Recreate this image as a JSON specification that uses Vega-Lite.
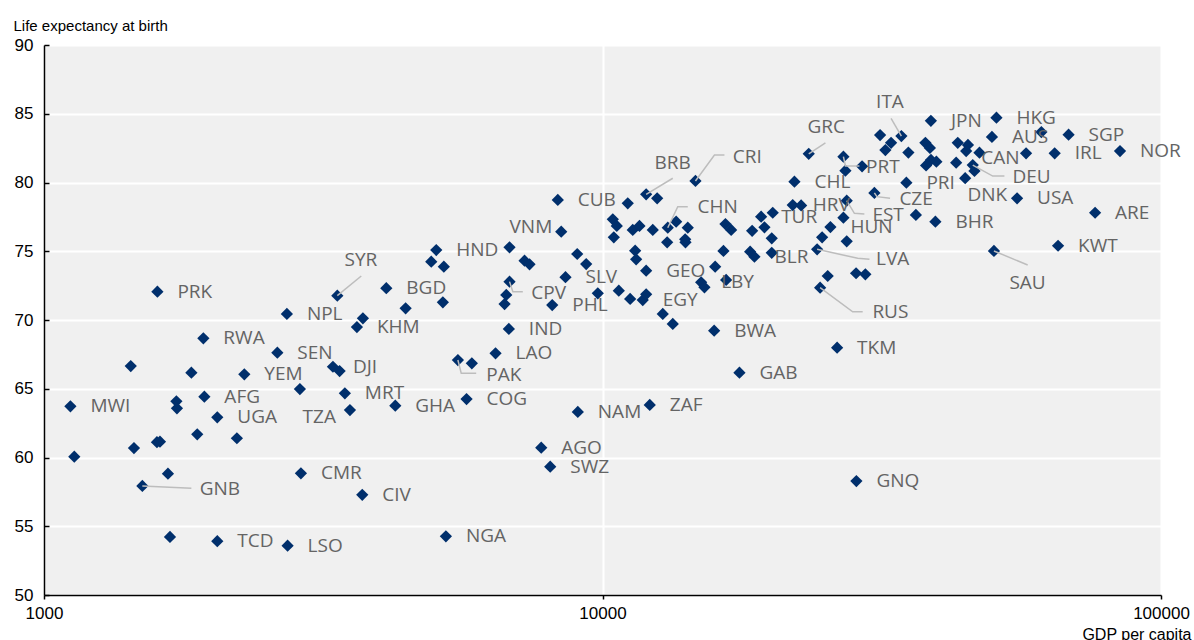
{
  "$schema": "https://vega.github.io/schema/vega-lite/v6.json",
  "autosize": {"type": "none"},
  "width": 1117,
  "height": 550,
  "padding": {"left": 44, "top": 45, "right": 33, "bottom": 45},
  "background": "#ffffff",
  "datasets": {
    "countries": [
      {"code": "MWI", "gdp": 1115, "le": 63.72},
      {"gdp": 1133, "le": 60.06},
      {"gdp": 1430, "le": 66.65},
      {"gdp": 1449, "le": 60.69},
      {"code": "GNB", "gdp": 1500, "le": 57.93},
      {"code": "PRK", "gdp": 1596, "le": 72.06},
      {"gdp": 1593, "le": 61.11},
      {"gdp": 1613, "le": 61.15},
      {"gdp": 1667, "le": 58.82},
      {"gdp": 1681, "le": 54.22},
      {"gdp": 1726, "le": 64.09},
      {"gdp": 1730, "le": 63.58},
      {"gdp": 1836, "le": 66.17},
      {"gdp": 1881, "le": 61.69},
      {"code": "RWA", "gdp": 1929, "le": 68.67},
      {"code": "AFG", "gdp": 1937, "le": 64.42},
      {"code": "UGA", "gdp": 2043, "le": 62.92},
      {"code": "TCD", "gdp": 2043, "le": 53.91},
      {"gdp": 2215, "le": 61.40},
      {"code": "YEM", "gdp": 2284, "le": 66.05},
      {"code": "SEN", "gdp": 2617, "le": 67.62},
      {"code": "NPL", "gdp": 2722, "le": 70.44},
      {"code": "LSO", "gdp": 2730, "le": 53.59},
      {"gdp": 2872, "le": 64.98},
      {"code": "CMR", "gdp": 2884, "le": 58.85},
      {"code": "DJI", "gdp": 3291, "le": 66.60},
      {"gdp": 3383, "le": 66.29},
      {"code": "SYR", "gdp": 3351, "le": 71.77},
      {"code": "MRT", "gdp": 3457, "le": 64.67},
      {"code": "TZA", "gdp": 3530, "le": 63.45},
      {"code": "KHM", "gdp": 3633, "le": 69.49},
      {"gdp": 3724, "le": 70.12},
      {"code": "CIV", "gdp": 3714, "le": 57.29},
      {"code": "BGD", "gdp": 4101, "le": 72.31},
      {"code": "GHA", "gdp": 4256, "le": 63.77},
      {"gdp": 4441, "le": 70.85},
      {"code": "HND", "gdp": 5039, "le": 75.09},
      {"gdp": 4936, "le": 74.24},
      {"gdp": 5199, "le": 73.88},
      {"gdp": 5178, "le": 71.29},
      {"code": "NGA", "gdp": 5243, "le": 54.27},
      {"code": "PAK", "gdp": 5509, "le": 67.09},
      {"code": "COG", "gdp": 5709, "le": 64.25},
      {"gdp": 5835, "le": 66.85},
      {"code": "LAO", "gdp": 6434, "le": 67.58},
      {"gdp": 6678, "le": 71.16},
      {"gdp": 6725, "le": 71.82},
      {"code": "IND", "gdp": 6797, "le": 69.35},
      {"code": "CPV", "gdp": 6816, "le": 72.79},
      {"gdp": 6816, "le": 75.29},
      {"gdp": 7251, "le": 74.31},
      {"gdp": 7402, "le": 74.05},
      {"code": "AGO", "gdp": 7768, "le": 60.71},
      {"code": "SWZ", "gdp": 8061, "le": 59.33},
      {"code": "PHL", "gdp": 8128, "le": 71.09},
      {"code": "CUB", "gdp": 8317, "le": 78.73},
      {"code": "VNM", "gdp": 8435, "le": 76.42},
      {"code": "SLV", "gdp": 8585, "le": 73.11},
      {"gdp": 9010, "le": 74.80},
      {"code": "NAM", "gdp": 9032, "le": 63.31},
      {"gdp": 9350, "le": 74.07},
      {"gdp": 9808, "le": 71.94},
      {"gdp": 10434, "le": 77.32},
      {"gdp": 10607, "le": 76.84},
      {"gdp": 10477, "le": 76.01},
      {"gdp": 10695, "le": 72.13},
      {"gdp": 11097, "le": 78.49},
      {"gdp": 11207, "le": 71.53},
      {"gdp": 11328, "le": 76.55},
      {"gdp": 11441, "le": 75.04},
      {"gdp": 11488, "le": 74.41},
      {"gdp": 11646, "le": 76.84},
      {"code": "EGY", "gdp": 11805, "le": 71.45},
      {"gdp": 11972, "le": 71.87},
      {"code": "BRB", "gdp": 11972, "le": 79.14},
      {"code": "GEO", "gdp": 11972, "le": 73.59},
      {"code": "ZAF", "gdp": 12151, "le": 63.82},
      {"gdp": 12303, "le": 76.55},
      {"gdp": 12528, "le": 78.85},
      {"gdp": 12821, "le": 70.44},
      {"gdp": 13055, "le": 75.65},
      {"code": "CHN", "gdp": 13088, "le": 76.71},
      {"gdp": 13360, "le": 69.71},
      {"gdp": 13548, "le": 77.15},
      {"gdp": 14061, "le": 75.87},
      {"gdp": 14079, "le": 75.65},
      {"gdp": 14213, "le": 76.71},
      {"code": "CRI", "gdp": 14671, "le": 80.11},
      {"code": "LBY", "gdp": 15019, "le": 72.74},
      {"gdp": 15225, "le": 72.38},
      {"code": "BWA", "gdp": 15846, "le": 69.22},
      {"gdp": 15912, "le": 73.88},
      {"gdp": 16465, "le": 75.02},
      {"gdp": 16601, "le": 76.98},
      {"gdp": 16649, "le": 72.91},
      {"gdp": 16996, "le": 76.55},
      {"code": "GAB", "gdp": 17587, "le": 66.17},
      {"gdp": 18380, "le": 74.97},
      {"gdp": 18532, "le": 76.49},
      {"code": "BLR", "gdp": 18709, "le": 74.60},
      {"code": "TUR", "gdp": 19233, "le": 77.51},
      {"gdp": 19497, "le": 76.74},
      {"gdp": 20092, "le": 75.94},
      {"gdp": 20092, "le": 74.89},
      {"gdp": 20175, "le": 77.80},
      {"code": "CHL", "gdp": 22063, "le": 80.06},
      {"code": "HRV", "gdp": 21909, "le": 78.36},
      {"gdp": 22680, "le": 78.33},
      {"code": "GRC", "gdp": 23402, "le": 82.09},
      {"code": "LVA", "gdp": 24226, "le": 75.14},
      {"code": "RUS", "gdp": 24527, "le": 72.35},
      {"gdp": 24730, "le": 76.01},
      {"gdp": 25307, "le": 73.20},
      {"code": "HUN", "gdp": 25590, "le": 76.76},
      {"code": "TKM", "gdp": 26307, "le": 67.99},
      {"code": "PRT", "gdp": 27000, "le": 81.88},
      {"gdp": 27000, "le": 77.44},
      {"gdp": 27223, "le": 80.86},
      {"code": "EST", "gdp": 27369, "le": 78.68},
      {"gdp": 27369, "le": 75.72},
      {"gdp": 28447, "le": 73.40},
      {"code": "GNQ", "gdp": 28482, "le": 58.29},
      {"gdp": 29158, "le": 81.18},
      {"gdp": 29557, "le": 73.32},
      {"code": "CZE", "gdp": 30676, "le": 79.24},
      {"gdp": 31406, "le": 83.45},
      {"gdp": 32099, "le": 82.36},
      {"gdp": 32862, "le": 82.89},
      {"code": "ITA", "gdp": 34288, "le": 83.38},
      {"code": "PRI", "gdp": 35002, "le": 79.99},
      {"gdp": 35292, "le": 82.18},
      {"gdp": 36401, "le": 77.64},
      {"gdp": 37856, "le": 82.89},
      {"gdp": 37965, "le": 81.24},
      {"gdp": 38565, "le": 82.51},
      {"code": "JPN", "gdp": 38724, "le": 84.49},
      {"gdp": 38740, "le": 81.64},
      {"gdp": 39612, "le": 81.51},
      {"code": "BHR", "gdp": 39449, "le": 77.15},
      {"code": "CAN", "gdp": 42976, "le": 81.44},
      {"gdp": 43261, "le": 82.89},
      {"code": "DNK", "gdp": 44602, "le": 80.31},
      {"gdp": 44786, "le": 82.29},
      {"gdp": 45119, "le": 82.73},
      {"code": "DEU", "gdp": 46021, "le": 81.27},
      {"gdp": 46344, "le": 80.84},
      {"gdp": 47309, "le": 82.17},
      {"code": "AUS", "gdp": 49809, "le": 83.31},
      {"code": "SAU", "gdp": 50221, "le": 75.02},
      {"code": "HKG", "gdp": 50741, "le": 84.71},
      {"code": "USA", "gdp": 55248, "le": 78.85},
      {"gdp": 57335, "le": 82.12},
      {"gdp": 61068, "le": 83.67},
      {"code": "IRL", "gdp": 64508, "le": 82.12},
      {"code": "KWT", "gdp": 65418, "le": 75.40},
      {"code": "SGP", "gdp": 68314, "le": 83.48},
      {"code": "ARE", "gdp": 76208, "le": 77.80},
      {"code": "NOR", "gdp": 84451, "le": 82.29}
    ],
    "callouts": [
      {"code": "DNK", "lgdp": 45026, "lle": 79.09},
      {"code": "TZA", "lgdp": 2904, "lle": 62.97},
      {"code": "VNM", "lgdp": 6816, "lle": 76.79},
      {"code": "CAN", "lgdp": 47642, "lle": 81.76},
      {"code": "SYR", "lgdp": 3453, "lle": 74.36},
      {"code": "GNB", "lgdp": 1900, "lle": 57.69},
      {"code": "CPV", "lgdp": 7454, "lle": 71.99},
      {"code": "PAK", "lgdp": 6192, "lle": 66.0},
      {"code": "BRB", "lgdp": 12390, "lle": 81.40},
      {"code": "CRI", "lgdp": 17115, "lle": 81.88},
      {"code": "CHN", "lgdp": 14792, "lle": 78.20},
      {"code": "GRC", "lgdp": 23277, "lle": 84.06},
      {"code": "ITA", "lgdp": 30893, "lle": 85.85},
      {"code": "PRT", "lgdp": 29643, "lle": 81.13},
      {"code": "CZE", "lgdp": 34007, "lle": 78.78},
      {"code": "EST", "lgdp": 30424, "lle": 77.64},
      {"code": "LVA", "lgdp": 30893, "lle": 74.41},
      {"code": "RUS", "lgdp": 30424, "lle": 70.60},
      {"code": "DEU", "lgdp": 54188, "lle": 80.38},
      {"code": "SAU", "lgdp": 53522, "lle": 72.71}
    ],
    "leaders": [
      {"code": "SYR", "i": 0, "gdp": 3351, "le": 71.77},
      {"code": "SYR", "i": 1, "gdp": 3699, "le": 73.20},
      {"code": "GNB", "i": 0, "gdp": 1500, "le": 57.93},
      {"code": "GNB", "i": 1, "gdp": 1836, "le": 57.76},
      {"code": "CPV", "i": 0, "gdp": 6816, "le": 72.79},
      {"code": "CPV", "i": 1, "gdp": 6910, "le": 72.06},
      {"code": "CPV", "i": 2, "gdp": 7200, "le": 72.06},
      {"code": "PAK", "i": 0, "gdp": 5509, "le": 67.09},
      {"code": "PAK", "i": 1, "gdp": 5586, "le": 66.12},
      {"code": "PAK", "i": 2, "gdp": 5941, "le": 66.12},
      {"code": "BRB", "i": 0, "gdp": 11972, "le": 79.14},
      {"code": "BRB", "i": 1, "gdp": 13360, "le": 80.31},
      {"code": "CRI", "i": 0, "gdp": 14671, "le": 80.11},
      {"code": "CRI", "i": 1, "gdp": 15866, "le": 82.0},
      {"code": "CRI", "i": 2, "gdp": 16533, "le": 82.0},
      {"code": "CHN", "i": 0, "gdp": 13088, "le": 76.71},
      {"code": "CHN", "i": 1, "gdp": 13638, "le": 78.24},
      {"code": "CHN", "i": 2, "gdp": 14213, "le": 78.24},
      {"code": "GRC", "i": 0, "gdp": 23402, "le": 82.09},
      {"code": "GRC", "i": 1, "gdp": 25069, "le": 82.89},
      {"code": "ITA", "i": 0, "gdp": 34288, "le": 83.38},
      {"code": "ITA", "i": 1, "gdp": 32862, "le": 84.67},
      {"code": "PRT", "i": 0, "gdp": 27000, "le": 81.88},
      {"code": "PRT", "i": 1, "gdp": 27223, "le": 81.2},
      {"code": "PRT", "i": 2, "gdp": 28840, "le": 81.2},
      {"code": "CZE", "i": 0, "gdp": 30676, "le": 79.24},
      {"code": "CZE", "i": 1, "gdp": 31000, "le": 78.97},
      {"code": "CZE", "i": 2, "gdp": 32727, "le": 78.85},
      {"code": "EST", "i": 0, "gdp": 27369, "le": 78.68},
      {"code": "EST", "i": 1, "gdp": 28248, "le": 77.76},
      {"code": "EST", "i": 2, "gdp": 29436, "le": 77.71},
      {"code": "LVA", "i": 0, "gdp": 24226, "le": 75.14},
      {"code": "LVA", "i": 1, "gdp": 28640, "le": 74.49},
      {"code": "LVA", "i": 2, "gdp": 30062, "le": 74.41},
      {"code": "RUS", "i": 0, "gdp": 24527, "le": 72.35},
      {"code": "RUS", "i": 1, "gdp": 28054, "le": 70.60},
      {"code": "RUS", "i": 2, "gdp": 29231, "le": 70.60},
      {"code": "DEU", "i": 0, "gdp": 46021, "le": 81.27},
      {"code": "DEU", "i": 1, "gdp": 49974, "le": 80.47},
      {"code": "DEU", "i": 2, "gdp": 52437, "le": 80.47},
      {"code": "SAU", "i": 0, "gdp": 50221, "le": 75.02},
      {"code": "SAU", "i": 1, "gdp": 57713, "le": 74.0}
    ]
  },
  "layer": [
    {
      "data": {"name": "countries"},
      "mark": {"type": "point", "shape": "diamond", "filled": true, "size": 150, "color": "#002F6C", "opacity": 1},
      "encoding": {
        "x": {"field": "gdp", "type": "quantitative", "scale": {"type": "log", "domain": [1000, 100000], "nice": false},
              "axis": {"values": [1000, 10000, 100000], "format": "d", "title": "GDP per capita"}},
        "y": {"field": "le", "type": "quantitative", "scale": {"domain": [50, 90], "nice": false, "zero": false},
              "axis": {"values": [50, 55, 60, 65, 70, 75, 80, 85, 90], "title": "Life expectancy at birth"}}
      }
    },
    {
      "data": {"name": "leaders"},
      "mark": {"type": "line", "color": "#bdbdbd", "strokeWidth": 1.5, "interpolate": "linear"},
      "encoding": {
        "x": {"field": "gdp", "type": "quantitative", "scale": {"type": "log", "domain": [1000, 100000], "nice": false},
              "axis": {"values": [1000, 10000, 100000], "format": "d", "title": "GDP per capita"}},
        "y": {"field": "le", "type": "quantitative", "scale": {"domain": [50, 90], "nice": false, "zero": false},
              "axis": {"values": [50, 55, 60, 65, 70, 75, 80, 85, 90], "title": "Life expectancy at birth"}},
        "detail": {"field": "code", "type": "nominal"},
        "order": {"field": "i", "type": "quantitative"}
      }
    },
    {
      "data": {"name": "countries"},
      "transform": [
        {"filter": "isValid(datum.code)"},
        {"lookup": "code", "from": {"data": {"name": "callouts"}, "key": "code", "fields": ["lle"]}},
        {"filter": "!isValid(datum.lle)"}
      ],
      "mark": {"type": "text", "align": "left", "baseline": "middle", "dx": 20, "font": "Open Sans", "fontSize": 19, "color": "#646464"},
      "encoding": {
        "x": {"field": "gdp", "type": "quantitative", "scale": {"type": "log", "domain": [1000, 100000], "nice": false},
              "axis": {"values": [1000, 10000, 100000], "format": "d", "title": "GDP per capita"}},
        "y": {"field": "le", "type": "quantitative", "scale": {"domain": [50, 90], "nice": false, "zero": false},
              "axis": {"values": [50, 55, 60, 65, 70, 75, 80, 85, 90], "title": "Life expectancy at birth"}},
        "text": {"field": "code", "type": "nominal"}
      }
    },
    {
      "data": {"name": "callouts"},
      "mark": {"type": "text", "align": "left", "baseline": "middle", "font": "Open Sans", "fontSize": 19, "color": "#646464"},
      "encoding": {
        "x": {"field": "lgdp", "type": "quantitative", "scale": {"type": "log", "domain": [1000, 100000], "nice": false},
              "axis": {"values": [1000, 10000, 100000], "format": "d", "title": "GDP per capita"}},
        "y": {"field": "lle", "type": "quantitative", "scale": {"domain": [50, 90], "nice": false, "zero": false},
              "axis": {"values": [50, 55, 60, 65, 70, 75, 80, 85, 90], "title": "Life expectancy at birth"}},
        "text": {"field": "code", "type": "nominal"}
      }
    }
  ],
  "config": {
    "view": {"fill": "#f0f0f0", "stroke": null},
    "axis": {
      "domainColor": "#000000", "domainWidth": 1.5,
      "tickColor": "#000000", "tickWidth": 1.5,
      "labelColor": "#000000", "labelFont": "Liberation Sans Narrow, Liberation Sans, Arial", "labelFontSize": 17,
      "labelFlush": false, "labelOverlap": false,
      "titleColor": "#000000", "titleFontWeight": "normal",
      "gridColor": "#ffffff", "gridWidth": 2, "gridOpacity": 1
    },
    "axisX": {
      "tickSize": 4, "labelPadding": 6,
      "titleFont": "Liberation Sans Narrow, Liberation Sans, Arial", "titleFontSize": 16,
      "titleAlign": "right", "titleAnchor": "end", "titleBaseline": "alphabetic", "titleX": 1147, "titleY": 44
    },
    "axisY": {
      "tickSize": -5, "labelPadding": 16,
      "titleFont": "Liberation Sans, Arial", "titleFontSize": 15,
      "titleAngle": 0, "titleAlign": "left", "titleBaseline": "alphabetic", "titleX": -31, "titleY": -15
    }
  }
}
